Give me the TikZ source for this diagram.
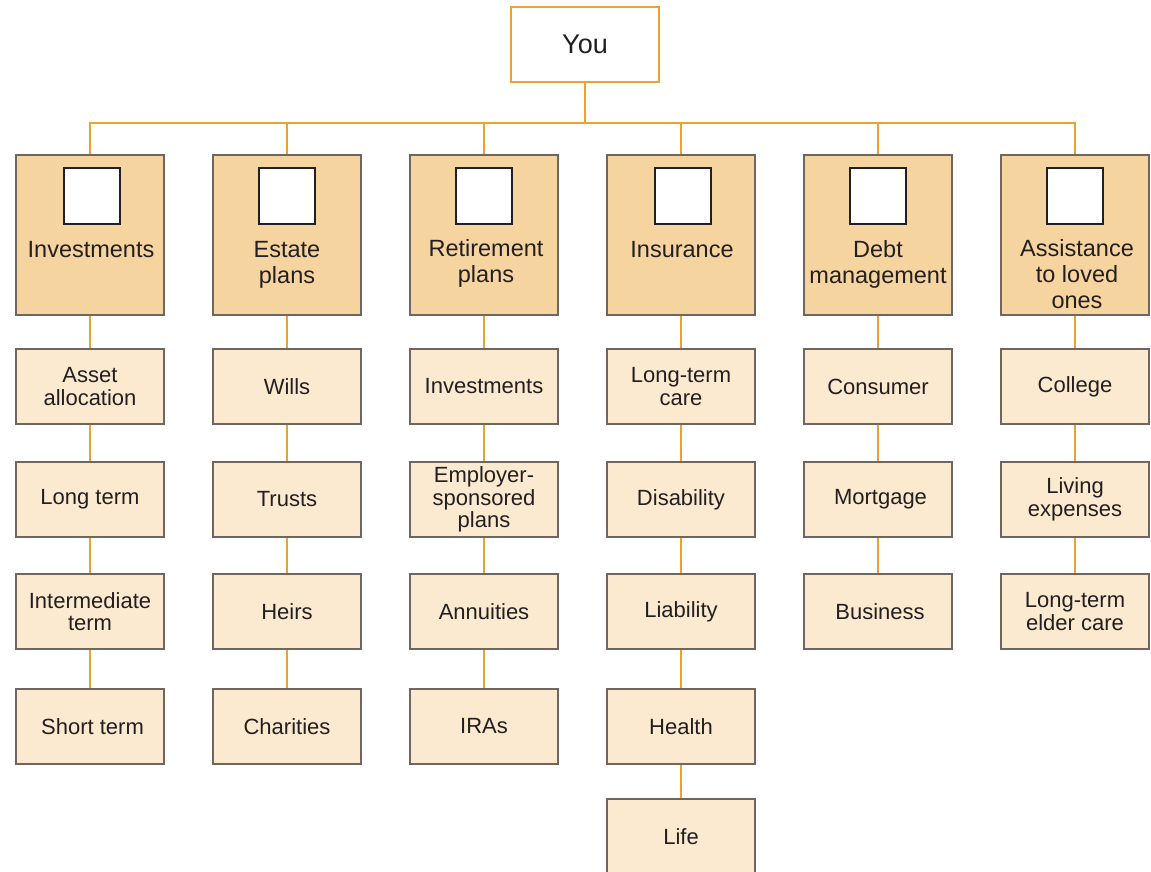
\documentclass[tikz,border=0pt]{standalone}
\usepackage{fontspec}
\setmainfont{Liberation Sans}
\definecolor{hdr}{RGB}{246,212,159}
\definecolor{sub}{RGB}{251,234,208}
\definecolor{edge}{RGB}{110,102,95}
\definecolor{conn}{RGB}{236,162,50}
\definecolor{ink}{RGB}{35,31,32}
\tikzset{
  subbox/.style={draw=edge, fill=sub, line width=1.1pt, minimum width=148pt, minimum height=75pt,
    inner sep=0pt, align=center, text=ink, font=\fontsize{22}{22.5}\selectfont},
  hdrbox/.style={draw=edge, fill=hdr, line width=1.1pt, minimum width=148pt, minimum height=160pt, inner sep=0pt},
  iconbox/.style={draw=ink, fill=white, line width=1.1pt, minimum size=56pt, inner sep=0pt},
  hdrtext/.style={text=ink, align=center, inner sep=0pt, anchor=north, font=\fontsize{23.5}{26}\selectfont},
  youbox/.style={draw=conn, fill=white, line width=1.2pt, minimum width=148pt, minimum height=75pt,
    inner sep=0pt, text=ink, font=\fontsize{27}{30}\selectfont},
  link/.style={draw=conn, line width=1.3pt}
}
\begin{document}
\begin{tikzpicture}[x=1pt,y=-1pt]
\useasboundingbox (0,0) rectangle (1151,872);
% top
\node[youbox] (you) at (585,44.5) {You};
\coordinate (bus) at (585,123);
% headers
\node[hdrbox] (h1) at (90,235) {};
\node[hdrbox] (h2) at (287,235) {};
\node[hdrbox] (h3) at (484,235) {};
\node[hdrbox] (h4) at (681,235) {};
\node[hdrbox] (h5) at (878,235) {};
\node[hdrbox] (h6) at (1075,235) {};
\node[iconbox] (i1) at (92,196) {};
\node[iconbox] (i2) at (287,196) {};
\node[iconbox] (i3) at (484,196) {};
\node[iconbox] (i4) at (683,196) {};
\node[iconbox] (i5) at (878,196) {};
\node[iconbox] (i6) at (1075,196) {};
\node[hdrtext] (t1) at (91,241.5) {Investments};
\node[hdrtext] (t2) at (287,241.5) {Estate\\plans};
\node[hdrtext] (t3) at (486,239.5) {Retirement\\plans};
\node[hdrtext] (t4) at (682,241.5) {Insurance};
\node[hdrtext] (t5) at (878,240) {Debt\\management};
\node[hdrtext] (t6) at (1077,239.5) {Assistance\\to loved\\ones};
% column 1
\node[subbox] (a1) at (90,386.5) {Asset\\allocation};
\node[subbox] (a2) at (90,499.5) {Long term};
\node[subbox] (a3) at (90,611.5) {Intermediate\\term};
\node[subbox] (a4) at (90,726.5) {\hspace*{5pt}Short term};
% column 2
\node[subbox] (b1) at (287,386.5) {Wills};
\node[subbox] (b2) at (287,499.5) {Trusts};
\node[subbox] (b3) at (287,611.5) {Heirs};
\node[subbox] (b4) at (287,726.5) {Charities};
% column 3
\node[subbox] (c1) at (484,386.5) {Investments};
\node[subbox] (c2) at (484,499.5) {Employer-\\sponsored\\plans};
\node[subbox] (c3) at (484,611.5) {Annuities};
\node[subbox] (c4) at (484,726.5) {IRAs};
% column 4
\node[subbox] (d1) at (681,386.5) {Long-term\\care};
\node[subbox] (d2) at (681,499.5) {Disability};
\node[subbox] (d3) at (681,611.5) {Liability};
\node[subbox] (d4) at (681,726.5) {Health};
\node[subbox] (d5) at (681,836.5) {Life};
% column 5
\node[subbox] (e1) at (878,386.5) {Consumer};
\node[subbox] (e2) at (878,499.5) {\hspace*{5pt}Mortgage};
\node[subbox] (e3) at (878,611.5) {\hspace*{4pt}Business};
% column 6
\node[subbox] (f1) at (1075,386.5) {College};
\node[subbox] (f2) at (1075,499.5) {Living\\expenses};
\node[subbox] (f3) at (1075,611.5) {Long-term\\elder care};
% connectors
\draw[link] (you.south) -- (bus);
\draw[link] (h1.north) -- (h1.north |- bus) -- (h6.north |- bus) -- (h6.north);
\foreach \h in {h2,h3,h4,h5} \draw[link] (\h.north) -- (\h.north |- bus);
\draw[link] (h1.south) -- (a1.north);
\draw[link] (a1.south) -- (a2.north);
\draw[link] (a2.south) -- (a3.north);
\draw[link] (a3.south) -- (a4.north);
\draw[link] (h2.south) -- (b1.north);
\draw[link] (b1.south) -- (b2.north);
\draw[link] (b2.south) -- (b3.north);
\draw[link] (b3.south) -- (b4.north);
\draw[link] (h3.south) -- (c1.north);
\draw[link] (c1.south) -- (c2.north);
\draw[link] (c2.south) -- (c3.north);
\draw[link] (c3.south) -- (c4.north);
\draw[link] (h4.south) -- (d1.north);
\draw[link] (d1.south) -- (d2.north);
\draw[link] (d2.south) -- (d3.north);
\draw[link] (d3.south) -- (d4.north);
\draw[link] (d4.south) -- (d5.north);
\draw[link] (h5.south) -- (e1.north);
\draw[link] (e1.south) -- (e2.north);
\draw[link] (e2.south) -- (e3.north);
\draw[link] (h6.south) -- (f1.north);
\draw[link] (f1.south) -- (f2.north);
\draw[link] (f2.south) -- (f3.north);
\end{tikzpicture}
\end{document}
